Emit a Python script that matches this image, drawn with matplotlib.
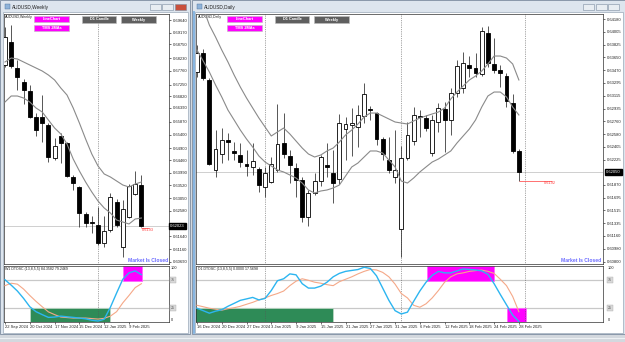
import numpy as np
import matplotlib
matplotlib.use('Agg')
import matplotlib.pyplot as plt
from matplotlib.patches import Rectangle
from matplotlib.transforms import blended_transform_factory

plt.rcParams['font.family'] = ['Liberation Sans', 'DejaVu Sans']

W, H = 625, 342

# ---------------- AUDUSD weekly ----------------
w_open = [0.67976, 0.68839, 0.67852, 0.67359, 0.67026, 0.66040, 0.66065, 0.65757, 0.64549, 0.65350,
          0.65103, 0.63846, 0.63476, 0.62465, 0.62157, 0.62058, 0.61405, 0.61874, 0.62909, 0.61257,
          0.62342, 0.63205, 0.63538]
w_high = [0.69393, 0.69455, 0.68161, 0.67446, 0.67236, 0.66188, 0.66854, 0.65818, 0.65264, 0.65449,
          0.65140, 0.63908, 0.63501, 0.62552, 0.62391, 0.62736, 0.62391, 0.63254, 0.63008, 0.62983,
          0.63575, 0.64068, 0.63908]
w_low = [0.67900, 0.67852, 0.67051, 0.66521, 0.66003, 0.65350, 0.65140, 0.64401, 0.64462, 0.64339,
         0.63846, 0.63353, 0.61997, 0.61997, 0.61750, 0.61319, 0.61257, 0.61812, 0.61972, 0.60887,
         0.62305, 0.63168, 0.61997]
w_close = [0.69024, 0.67939, 0.67520, 0.67051, 0.66040, 0.65572, 0.65818, 0.64586, 0.64980, 0.65103,
           0.63871, 0.63600, 0.62490, 0.62120, 0.62120, 0.61405, 0.61849, 0.63106, 0.62058, 0.62638,
           0.63501, 0.63575, 0.62023]
w_ma1 = [0.68087, 0.68235, 0.68198, 0.68087, 0.67976, 0.67865, 0.67754, 0.67606, 0.67421, 0.67125,
         0.66866, 0.66386, 0.65831, 0.65240, 0.64684, 0.64241, 0.63945, 0.63834, 0.63686, 0.63538,
         0.63464, 0.63575, 0.63649]
w_ma2 = [0.66607, 0.66829, 0.66829, 0.66755, 0.66607, 0.66386, 0.66238, 0.65942, 0.65646, 0.65424,
         0.65054, 0.64499, 0.64056, 0.63649, 0.63279, 0.62946, 0.62687, 0.62502, 0.62243, 0.62169,
         0.62096, 0.62280, 0.62317]
w_dt_fast = [75.2, 65.5, 54.9, 41.6, 26.6, 17.7, 12.4, 7.4, 8.0, 9.7, 8.5, 7.4, 6.2, 4.8, 2.3, 0.9,
             4.1, 25.7, 51.3, 76.1, 87.6, 91.2, 84.4]
w_dt_slow = [64.6, 69.0, 67.3, 58.4, 46.9, 36.3, 26.6, 17.3, 12.4, 8.0, 7.1, 6.2, 6.2, 6.2, 5.3, 4.4,
             5.7, 9.7, 17.7, 33.6, 46.9, 61.1, 68.1]
w_date_idx = [0, 4, 8, 12, 16, 20]
w_date_lbl = ['22 Sep 2024', '20 Oct 2024', '17 Nov 2024', '15 Dec 2024', '12 Jan 2025', '9 Feb 2025']
w_price_lbl = ['0.69640', '0.69170', '0.68750', '0.68230', '0.67760', '0.67250', '0.66820', '0.66390',
               '0.65870', '0.65400', '0.64900', '0.64460', '0.63990', '0.63520', '0.63050', '0.62580',
               '0.61640', '0.61160', '0.60690']
w_separators = [15]
w_zones = [(4.0, 16.9, 0, 25, '#2e8b57'), (19.0, 22.1, 75, 100, '#ff00ff')]
w_level = 0.6193

# ---------------- AUDUSD daily ----------------
d_open = [0.63449, 0.63706, 0.63334, 0.62079, 0.62298, 0.62497, 0.62344, 0.62288, 0.62162, 0.62125,
          0.62093, 0.61837, 0.61916, 0.62079, 0.62451, 0.62274, 0.62111, 0.61939, 0.61419, 0.61762,
          0.61929, 0.62148, 0.62041, 0.61949, 0.62646, 0.62702, 0.62682, 0.62832, 0.62925, 0.62869,
          0.62507, 0.62218, 0.61985, 0.61256, 0.62246, 0.62483, 0.62832, 0.62804, 0.62316, 0.62748,
          0.62929, 0.62776, 0.63152, 0.63222, 0.63543, 0.63501, 0.63417, 0.63989, 0.63557, 0.63473,
          0.63389, 0.63013, 0.62344]
d_high = [0.63822, 0.63762, 0.63357, 0.62636, 0.62660, 0.62590, 0.62473, 0.62451, 0.62358, 0.62459,
          0.62125, 0.62125, 0.62264, 0.62999, 0.62869, 0.62358, 0.62172, 0.61985, 0.61800, 0.62033,
          0.62288, 0.62459, 0.62358, 0.62860, 0.62822, 0.62947, 0.62985, 0.63296, 0.62971, 0.62892,
          0.62543, 0.62543, 0.62636, 0.62413, 0.62748, 0.62957, 0.62915, 0.62846, 0.62846, 0.63013,
          0.63027, 0.63222, 0.63612, 0.63724, 0.63668, 0.63710, 0.64073, 0.64087, 0.63919, 0.63543,
          0.63431, 0.63138, 0.62372]
d_low = [0.63380, 0.63334, 0.62148, 0.61985, 0.62172, 0.62218, 0.62218, 0.62125, 0.61995, 0.62009,
         0.61776, 0.61706, 0.61893, 0.62055, 0.62242, 0.61893, 0.61706, 0.61358, 0.61298, 0.61730,
         0.61856, 0.61985, 0.61623, 0.61883, 0.62218, 0.62274, 0.62404, 0.62730, 0.62776, 0.62427,
         0.62218, 0.62033, 0.61893, 0.60866, 0.62218, 0.62427, 0.62539, 0.62622, 0.62274, 0.62609,
         0.62330, 0.62567, 0.63097, 0.63152, 0.63375, 0.63375, 0.63389, 0.63515, 0.63431, 0.63236,
         0.62957, 0.62316, 0.61925]
d_close = [0.63706, 0.63357, 0.62162, 0.62367, 0.62497, 0.62473, 0.62320, 0.62194, 0.62139, 0.62204,
           0.61870, 0.62033, 0.62162, 0.62441, 0.62302, 0.62148, 0.61939, 0.61427, 0.61762, 0.61929,
           0.62264, 0.62121, 0.61893, 0.62730, 0.62716, 0.62730, 0.62841, 0.63134, 0.62911, 0.62511,
           0.62302, 0.62079, 0.62079, 0.62246, 0.62567, 0.62846, 0.62818, 0.62664, 0.62776, 0.62943,
           0.62776, 0.63152, 0.63529, 0.63571, 0.63501, 0.63431, 0.64017, 0.63571, 0.63473, 0.63431,
           0.63041, 0.62344, 0.62050]
d_ma1 = [0.64519, 0.64338, 0.64100, 0.63933, 0.63752, 0.63585, 0.63403, 0.63236, 0.63083, 0.62943,
         0.62804, 0.62678, 0.62553, 0.62609, 0.62664, 0.62581, 0.62483, 0.62385, 0.62302, 0.62260,
         0.62288, 0.62344, 0.62385, 0.62469, 0.62567, 0.62636, 0.62720, 0.62818, 0.62873, 0.62873,
         0.62832, 0.62790, 0.62748, 0.62734, 0.62720, 0.62762, 0.62804, 0.62832, 0.62860, 0.62887,
         0.62943, 0.63069, 0.63166, 0.63250, 0.63334, 0.63389, 0.63459, 0.63557, 0.63668, 0.63668,
         0.63640, 0.63557, 0.63334]
d_ma2 = [0.63752, 0.63599, 0.63445, 0.63264, 0.63097, 0.62915, 0.62776, 0.62636, 0.62511, 0.62399,
         0.62274, 0.62190, 0.62134, 0.62079, 0.62051, 0.62009, 0.61967, 0.61897, 0.61800, 0.61758,
         0.61786, 0.61800, 0.61828, 0.61869, 0.61995, 0.62121, 0.62176, 0.62260, 0.62344, 0.62344,
         0.62316, 0.62218, 0.62121, 0.61925, 0.61897, 0.61967, 0.62051, 0.62121, 0.62190, 0.62232,
         0.62288, 0.62344, 0.62455, 0.62553, 0.62650, 0.62776, 0.62957, 0.63111, 0.63166, 0.63166,
         0.63097, 0.62957, 0.62846]
d_dt_fast = [23.9, 19.5, 15.0, 18.6, 21.2, 27.4, 32.7, 38.1, 40.7, 43.4, 38.9, 41.6, 55.8, 73.5, 77.0,
             85.8, 84.1, 68.1, 60.2, 60.2, 63.7, 70.8, 80.5, 86.7, 90.3, 92.0, 93.6, 97.7, 95.6, 82.3,
             60.2, 38.1, 19.5, 13.6, 16.8, 36.3, 54.9, 70.8, 83.2, 90.3, 87.6, 87.6, 91.2, 94.7, 93.8,
             92.9, 91.2, 85.0, 68.1, 48.7, 30.1, 11.5, 0.0]
d_dt_slow = [29.2, 26.6, 23.9, 22.1, 20.4, 23.0, 24.8, 27.4, 31.0, 34.5, 38.9, 42.5, 46.9, 50.4, 54.9,
             64.6, 72.6, 77.0, 74.3, 70.8, 69.0, 66.4, 64.6, 71.7, 76.1, 80.5, 85.8, 90.3, 93.8, 92.9,
             88.5, 80.5, 67.3, 50.4, 42.5, 29.2, 25.7, 31.9, 42.5, 55.8, 70.8, 80.5, 85.8, 87.6, 90.3,
             91.7, 92.6, 90.3, 86.7, 76.1, 64.6, 45.1, 17.6]
d_date_idx = [0, 4, 8, 12, 16, 20, 24, 28, 32, 36, 40, 44, 48, 52]
d_date_lbl = ['16 Dec 2024', '20 Dec 2024', '27 Dec 2024', '3 Jan 2025', '9 Jan 2025', '15 Jan 2025',
              '21 Jan 2025', '27 Jan 2025', '31 Jan 2025', '6 Feb 2025', '12 Feb 2025', '18 Feb 2025',
              '24 Feb 2025', '28 Feb 2025']
d_price_lbl = ['0.64180', '0.64005', '0.63825', '0.63650', '0.63470', '0.63295', '0.63115', '0.62935',
               '0.62760', '0.62580', '0.62405', '0.62225', '0.61870', '0.61695', '0.61515', '0.61335',
               '0.61160', '0.60980', '0.60800']
d_separators = [11, 33, 53]
d_zones = [(-1.0, 22.0, 0, 25, '#2e8b57'), (37.2, 48.0, 75, 100, '#ff00ff'), (50.1, 53.2, 0, 25, '#ff00ff')]
d_level = 0.6192


fig = plt.figure(figsize=(W / 100, H / 100), dpi=100)


def px_axes(x0, y0, x1, y1, z=1):
    ax = fig.add_axes([x0 / W, 1 - y1 / H, (x1 - x0) / W, (y1 - y0) / H])
    ax.set_zorder(z)
    return ax


# window chrome (pixel space)
bg = px_axes(0, 0, W, H, z=0)
bg.set_xlim(0, W)
bg.set_ylim(H, 0)
bg.axis('off')
bg.add_patch(Rectangle((0, 0), W, H, fc='#d3d8de', ec='none'))
for x0, x1, title in [(0, 190, 'AUDUSD,Weekly'), (192, 625, 'AUDUSD,Daily')]:
    bg.add_patch(Rectangle((x0, 0), x1 - x0, 334, fc='#dde5ee', ec='#7d8ca0', lw=0.6))
    bg.add_patch(Rectangle((x0 + 3, 12), x1 - x0 - 5, 321, fc='white', ec='#9aa8b8', lw=0.5))
    bg.add_patch(Rectangle((x0 + 5, 4), 5, 5, fc='#8fb3d9', ec='#4a6f99', lw=0.3))
    bg.text(x0 + 12, 7, title, fontsize=3.4, color='#1e1e1e', va='center')
for bx, fc in [(150, '#e8edf2'), (162, '#e8edf2'), (175, '#c9503c'),
               (583, '#e8edf2'), (596, '#e8edf2'), (608, '#e8edf2')]:
    bg.add_patch(Rectangle((bx, 3.5), 11, 6, fc=fc, ec='#7d8ca0', lw=0.4))
bg.plot([193.6, 193.6], [12, 333], color='#7fb2e0', lw=1.3)
bg.plot([0, W], [337.5, 337.5], color='#eef1f4', lw=0.8)

top = px_axes(0, 0, W, H, z=20)
top.set_xlim(0, W)
top.set_ylim(H, 0)
top.axis('off')
top.patch.set_alpha(0)


def button(x0, y0, x1, y1, text, fc):
    top.add_patch(Rectangle((x0, y0), x1 - x0, y1 - y0, fc=fc, ec='#bdbdbd', lw=0.4))
    top.text((x0 + x1) / 2, (y0 + y1) / 2 + 0.3, text, fontsize=2.8, color='white',
             fontweight='bold', ha='center', va='center')


for ox in [0, 193]:
    button(34 + ox, 15.7, 69 + ox, 22.2, 'LineChart', '#ff00ff')
    button(34 + ox, 24.5, 69 + ox, 31.0, 'TMS 2MAs', '#ff00ff')
    button(82 + ox, 15.7, 116 + ox, 22.7, 'D1 Candle', '#5f5f5f')
    button(121 + ox, 15.7, 156 + ox, 22.7, 'Weekly', '#5f5f5f')


def style_spines(ax):
    for s in ax.spines.values():
        s.set_color('#303030')
        s.set_linewidth(0.5)


def price_pane(ax, o, h, l, c, ma1, ma2, ylim, xlim, labels, seps, level, info, lvl_x):
    o, h, l, c = map(np.asarray, (o, h, l, c))
    x = np.arange(len(o))
    up = c >= o
    ax.vlines(x, l, h, color='#3a3a3a', lw=0.6, zorder=2)
    ax.bar(x[up], c[up] - o[up], bottom=o[up], width=0.62, color='white',
           edgecolor='black', lw=0.6, zorder=3)
    ax.bar(x[~up], o[~up] - c[~up], bottom=c[~up], width=0.62, color='black',
           edgecolor='black', lw=0.6, zorder=3)
    ax.plot(x, ma1, color='#8a8a8a', lw=0.8, zorder=4)
    ax.plot(x, ma2, color='#8a8a8a', lw=0.8, zorder=4)
    ax.axhline(c[-1], color='#cfcfcf', lw=0.7, zorder=1)
    for s in seps:
        ax.axvline(s, color='#555555', lw=0.5, ls=(0, (1, 1.6)), zorder=1)
    ax.hlines(level, lvl_x[0], lvl_x[1], color='#ff5a5a', lw=0.6, zorder=5)
    ax.text(lvl_x[2], level, f'{level:.4f}', fontsize=2.8, color='#ff4040',
            ha='left', va='top', zorder=5)
    ax.set_xlim(*xlim)
    ax.set_ylim(*ylim)
    ax.set_xticks([])
    ax.yaxis.tick_right()
    ax.set_yticks([float(v) for v in labels])
    ax.set_yticklabels(labels)
    ax.tick_params(axis='y', length=1.5, width=0.4, pad=1.2, labelsize=3, labelcolor='#222222')
    style_spines(ax)
    tr = blended_transform_factory(ax.transAxes, ax.transData)
    ax.text(1.008, c[-1], f'{c[-1]:.5f}', transform=tr, fontsize=3, color='white',
            ha='left', va='center', clip_on=False,
            bbox=dict(boxstyle='square,pad=0.2', fc='black', ec='black'))
    # symbol line, partly hidden behind the buttons in the original
    ax.text(0.006, 0.995, info[0], transform=ax.transAxes, fontsize=2.6, color='#222222',
            ha='left', va='top')
    ax.annotate(info[1], xy=(66, -3.5), xycoords='axes pixels', fontsize=2.6, color='#222222',
                ha='left', va='top')
    ax.text(0.995, 0.004, 'Market Is Closed', transform=ax.transAxes, fontsize=3.6,
            color='#6a6aff', fontweight='bold', ha='right', va='bottom')


def osc_pane(ax, fast, slow, xlim, zones, seps, idx, lbls, title):
    x = np.arange(len(fast))
    for x0, x1, y0, y1, col in zones:
        ax.add_patch(Rectangle((x0, y0 - 2), x1 - x0, y1 - y0 + 2, fc=col,
                               ec='#b9d6c2' if col == '#2e8b57' else '#ff66ff', lw=0.6, zorder=1))
    for lv in [75, 25]:
        ax.axhline(lv, color='#c8c8c8', lw=0.9, zorder=0.5)
    for s in seps:
        ax.axvline(s, color='#555555', lw=0.5, ls=(0, (1, 1.6)), zorder=2)
    ax.plot(x, slow, color='#f5a888', lw=0.8, zorder=3)
    ax.plot(x, fast, color='#2cb5f0', lw=1.0, zorder=4)
    ax.set_xlim(*xlim)
    ax.set_ylim(-0.9, 100)
    ax.set_yticks([])
    ax.set_xticks(idx)
    ax.set_xticklabels(lbls, ha='left')
    ax.tick_params(axis='x', length=1.5, width=0.4, pad=1.0, labelsize=3, labelcolor='#222222')
    style_spines(ax)
    tr = blended_transform_factory(ax.transAxes, ax.transData)
    ax.text(1.012, 100, '100', transform=tr, fontsize=2.8, color='#222222', ha='left', va='top')
    ax.text(1.012, 0, '0', transform=tr, fontsize=2.8, color='#222222', ha='left', va='bottom')
    for lv in [75, 25]:
        ax.text(1.012, lv, str(lv), transform=tr, fontsize=2.6, color='#555555', ha='left',
                va='center', bbox=dict(boxstyle='square,pad=0.25', fc='#d8d8d8', ec='#b0b0b0', lw=0.3))
    ax.text(0.006, 0.985, title, transform=ax.transAxes, fontsize=2.6, color='#222222',
            ha='left', va='top', zorder=6)


# weekly chart
ax_w = px_axes(4, 14, 169, 264, z=5)
price_pane(ax_w, w_open, w_high, w_low, w_close, w_ma1, w_ma2, (0.60616, 0.69862), (-0.16, 26.45),
           w_price_lbl, w_separators, w_level, ('AUDUSD,Weekly', '0.6205 0.'),
           (22.0, 23.2, 22.1))
ax_wo = px_axes(4, 266, 169, 322, z=5)
osc_pane(ax_wo, w_dt_fast, w_dt_slow, (-0.16, 26.45), w_zones, w_separators, w_date_idx, w_date_lbl,
         'W1 DTOSC (13,8,5,5) 84.3582 79.2469')

# daily chart
ax_d = px_axes(196, 14, 603, 264, z=5)
price_pane(ax_d, d_open, d_high, d_low, d_close, d_ma1, d_ma2, (0.60768, 0.64254), (-0.16, 65.59),
           d_price_lbl, d_separators, d_level, ('AUDUSD,Daily', '0.62 0.'),
           (52.0, 57.3, 56.0))
ax_do = px_axes(196, 266, 603, 322, z=5)
osc_pane(ax_do, d_dt_fast, d_dt_slow, (-0.16, 65.59), d_zones, d_separators, d_date_idx, d_date_lbl,
         'D1 DTOSC (13,8,5,5) 0.0000 17.5698')

fig.savefig('out.png', dpi=100)
